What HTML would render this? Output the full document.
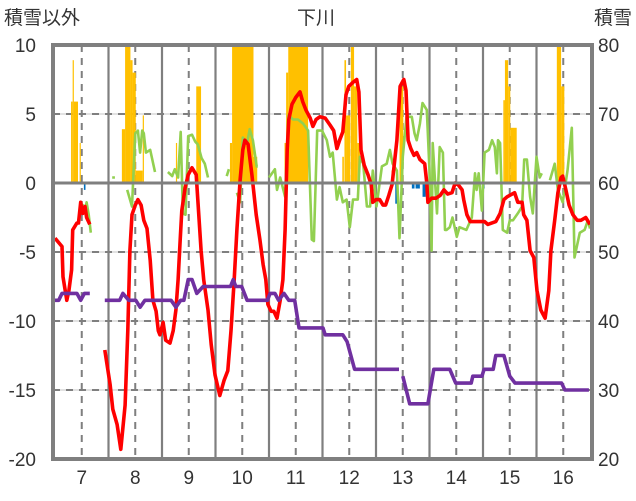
<!DOCTYPE html>
<html><head><meta charset="utf-8">
<style>
html,body{margin:0;padding:0;background:#fff;}
svg{display:block;font-family:"Liberation Sans","Noto Sans CJK JP",sans-serif;}
</style></head>
<body>
<svg id="chart" width="636" height="501" viewBox="0 0 636 501" xmlns="http://www.w3.org/2000/svg">
<text x="316" y="24" font-size="19" text-anchor="middle" fill="#333">下川</text>
<text x="4" y="24" font-size="19" fill="#333">積雪以外</text>
<text x="632" y="24" font-size="19" text-anchor="end" fill="#333">積雪</text>
<g id="grid"></g>
<g id="bars"></g>
<g id="lines"></g>
<g id="axes"></g>
</svg>
<script>
const xTicks = [7,8,9,10,11,12,13,14,15,16];
const leftTicks = [10,5,0,-5,-10,-15,-20];
const rightTicks = [80,70,60,50,40,30,20];

const redT = [6.50,6.63,6.65,6.72,6.76,6.81,6.83,6.91,6.94,6.98,7.02,7.06,7.09,7.15,null,
7.43,7.53,7.58,7.66,7.73,7.81,7.86,7.90,7.94,8.00,8.05,8.11,8.16,8.22,8.28,8.33,8.39,8.43,8.46,8.52,8.57,8.65,8.71,8.76,8.80,8.84,8.87,8.93,8.99,9.06,9.14,9.17,9.23,9.28,9.36,9.42,9.49,9.58,9.66,9.73,9.79,9.85,9.90,9.96,10.01,10.05,10.11,10.18,10.26,10.33,10.39,10.44,10.48,10.54,10.59,10.65,10.71,10.76,10.80,10.84,10.87,10.93,11.00,11.08,11.13,11.19,11.27,11.32,11.38,11.45,11.55,11.64,11.71,11.77,11.82,11.88,11.94,11.99,12.07,12.14,12.18,12.22,12.28,12.35,12.41,12.44,12.50,12.57,12.63,12.68,12.74,12.80,12.89,12.95,13.02,13.06,13.10,13.15,13.21,13.26,13.32,13.41,13.45,13.47,13.54,13.62,13.70,13.77,13.84,13.92,13.98,14.03,14.11,14.14,14.20,14.26,14.40,14.53,14.59,14.74,14.82,14.89,14.95,15.09,15.15,15.23,15.26,15.32,15.38,15.45,15.51,15.58,15.66,15.73,15.77,15.84,15.90,15.96,15.99,16.05,16.11,16.18,16.26,16.33,16.42,16.50];
const redV = [-4.0,-4.6,-6.8,-8.5,-7.8,-6.3,-3.4,-2.9,-2.9,-1.4,-2.2,-1.7,-2.5,-3.0,null,
-12.1,-14.6,-16.4,-17.5,-19.3,-16.1,-10.7,-4.9,-2.3,-1.6,-1.2,-1.6,-2.7,-3.3,-5.6,-8.5,-9.3,-10.7,-11.0,-10.1,-11.4,-11.6,-10.7,-9.2,-7.0,-4.1,-2.0,-0.4,0.6,1.1,0.6,-1.2,-4.9,-7.0,-9.2,-11.7,-13.9,-15.4,-14.3,-13.6,-10.7,-7.0,-3.4,0.2,2.4,3.1,2.8,0.6,-2.3,-4.1,-5.9,-7.0,-8.8,-9.3,-9.3,-9.8,-8.5,-7.0,-3.4,2.4,4.6,5.7,6.2,6.6,5.9,5.3,4.7,4.1,4.6,4.8,4.7,4.2,3.8,2.5,3.1,3.7,6.4,7.0,7.3,7.5,6.6,2.4,1.3,0.6,-0.1,-1.4,-1.2,-1.2,-1.6,-1.6,-0.9,-0.1,3.1,7.0,7.5,6.7,3.1,2.5,2.0,2.2,1.7,1.4,0.0,-1.4,-1.1,-1.1,-0.9,-0.5,-0.8,-0.7,0.0,-0.1,-0.5,-1.2,-2.3,-2.8,-2.8,-2.8,-3.0,-2.8,-2.2,-1.2,-1.0,-0.7,-1.4,-1.4,-2.3,-2.7,-4.9,-5.4,-7.8,-9.2,-9.8,-7.8,-4.9,-2.7,-0.7,0.4,0.5,-0.5,-1.6,-2.3,-2.7,-2.7,-2.5,-3.0];

const greenT = [6.97,7.02,7.06,7.09,7.13,7.17,null,7.57,7.62,null,
7.85,7.94,8.00,8.05,8.09,8.13,8.16,8.20,8.28,8.37,null,
8.61,8.69,8.74,8.80,8.85,8.89,8.94,8.99,9.06,9.12,9.17,9.24,9.30,9.36,null,
9.71,9.75,null,9.90,9.96,10.01,10.09,10.14,10.20,10.27,10.29,null,
10.50,10.61,10.65,10.71,10.80,10.86,10.95,11.04,11.14,11.23,11.30,11.34,11.40,11.49,11.58,11.64,11.69,11.77,11.82,11.88,11.95,12.01,12.07,12.16,12.20,12.26,12.33,12.39,12.44,12.51,12.61,12.70,12.76,12.81,12.89,12.94,13.00,13.07,13.17,13.22,13.26,13.32,13.37,13.45,13.50,13.54,13.56,13.64,13.69,13.75,13.79,13.82,13.88,13.93,14.01,14.06,14.19,14.29,14.35,14.38,14.42,14.48,14.53,14.61,14.67,14.72,14.76,14.78,14.82,14.87,14.95,15.00,15.06,15.15,15.23,15.27,15.32,15.38,15.43,15.50,15.56,15.60,null,
15.75,15.84,15.90,15.99,16.08,16.16,16.21,16.31,16.40,16.46,16.50];
const greenV = [-2.0,-1.6,-2.0,-1.4,-2.3,-3.6,null,0.4,0.4,null,
-0.5,-1.7,3.6,3.8,2.2,3.8,3.6,2.2,2.4,0.8,null,
0.8,0.5,1.0,0.4,3.7,-2.2,-2.3,3.4,3.5,3.0,2.8,1.8,1.4,0.4,null,
0.5,1.0,null,-0.7,-1.4,3.3,2.9,3.9,3.1,1.2,1.2,null,
0.4,1.0,-0.5,0.4,-1.0,4.9,4.6,4.6,4.3,3.8,-4.1,-4.2,3.8,3.8,3.1,1.9,2.2,-1.2,-0.3,-1.4,-1.2,-3.2,-1.2,-1.2,1.9,1.4,-1.7,-1.7,0.9,-1.7,1.2,1.4,2.4,1.4,0.9,-4.0,1.9,4.8,4.8,3.6,3.1,4.3,5.8,5.3,0.9,-4.9,2.9,-2.2,2.6,2.2,-3.4,-3.4,-3.2,-2.5,-3.9,-3.2,-3.4,-2.5,0.7,-0.5,0.7,-2.0,2.2,2.4,3.1,2.6,0.7,3.1,2.9,-3.4,-3.6,-2.7,-2.7,-2.2,-1.7,1.7,1.7,-1.0,-2.2,1.9,0.4,0.7,null,
0.2,1.4,-0.5,-1.4,0.9,4.0,-5.4,-3.6,-3.4,-2.7,-3.3];

const purpleT = [6.50,6.57,6.63,6.91,6.98,7.05,7.15,null,
7.43,7.71,7.77,7.88,8.01,8.09,8.18,8.67,8.76,8.85,8.91,8.99,9.06,9.15,9.27,9.78,9.83,9.88,9.99,10.09,10.47,10.52,10.61,10.68,10.78,10.87,10.98,11.06,11.51,11.55,11.88,11.96,12.10,12.93,null,
13.00,13.13,13.47,13.58,13.88,13.99,14.28,14.31,14.48,14.52,14.69,14.74,14.89,15.00,15.10,15.97,16.03,16.48];
const purpleV = [43,43,44,44,43,44,44,null,
43,43,44,43,43,42,43,43,42,43,43,46,46,44,45,45,46,45,45,43,43,44,44,43,44,43,43,39,39,38,38,37,33,33,null,
32,28,28,33,33,31,31,32,32,33,33,35,35,32,31,31,30,30];

const snowStart = [6.80,6.83,6.85,6.96,7.75,7.81,7.91,7.95,8.01,8.14,8.76,9.14,9.77,9.81,10.21,10.79,10.82,10.86,11.87,11.91,11.94,12.03,12.09,12.15,12.79,12.94,14.88,14.91,14.97,15.01,15.88,15.96];
const snowEnd   = [6.83,6.85,6.93,6.98,7.81,7.91,7.95,8.01,8.14,8.16,8.78,9.23,9.81,10.21,10.28,10.82,10.86,11.23,11.90,11.94,12.02,12.09,12.15,12.20,12.82,13.01,14.91,14.97,15.01,15.13,15.96,16.02];
const snowVal   = [5.9,8.9,5.9,2.9,3.9,12,8.9,8.0,0.9,4.9,2.9,7.0,2.9,12,1.9,2.9,8.0,12,1.9,8.9,4.9,12,7.0,2.9,0.9,7.0,6.0,8.9,7.0,4.0,12,7.0];

const negStart = [7.04,8.93,12.86,13.17,13.24,13.37,14.48];
const negEnd   = [7.07,8.95,12.91,13.22,13.32,13.43,14.53];
const negVal   = [-0.5,-0.3,-1.5,-0.4,-0.4,-1.0,-0.4];

const NS='http://www.w3.org/2000/svg';
const L=53,R=592,T=45,B=459;
function xs(t){return 55+(t-6.5)*53.5;}
function yl(v){return 183-v*13.8;}
function yr(r){return 459-(r-20)*6.9;}
function mk(tag,attrs,parent){const e=document.createElementNS(NS,tag);for(const k in attrs)e.setAttribute(k,attrs[k]);parent.appendChild(e);return e;}

const grid=document.getElementById('grid');
// horizontal grid
leftTicks.forEach(v=>{
  const y=yl(v);
  if(v===0||v===10||v===-20) return;
  const g=mk('line',{x1:L,x2:R,y1:y,y2:y,stroke:'#d9d9d9','stroke-width':1.5},grid);
  
  
  const d=mk('line',{x1:L,x2:R,y1:y,y2:y,stroke:'#7f7f7f','stroke-width':2,'stroke-dasharray':'7,6'},grid);
  
  
});
// vertical solid lines at half days, dashed at ticks
xTicks.forEach(t=>{
  const xd=xs(t);
  const d=mk('line',{x1:xd,x2:xd,y1:T,y2:B,stroke:'#7f7f7f','stroke-width':2,'stroke-dasharray':'7,6'},grid);
  
  
  if(t<16){const xsld=xs(t+0.5);
  const s=mk('line',{x1:xsld,x2:xsld,y1:T,y2:B,stroke:'#7f7f7f','stroke-width':2.2},grid);
  
  }
});

const bars=document.getElementById('bars');
mk('clipPath',{id:'clip'},bars).appendChild((()=>{const r=document.createElementNS(NS,'rect');r.setAttribute('x',L);r.setAttribute('y',T);r.setAttribute('width',R-L);r.setAttribute('height',B-T);return r;})());
snowVal.forEach((v,i)=>{
  const x0=xs(snowStart[i]),x1=xs(snowEnd[i]);
  const y=Math.max(yl(v),T);
  const r=mk('rect',{x:x0,y:y,width:Math.max(x1-x0,1.2),height:yl(0)-y,fill:'#FFC000'},bars);
  
  
});
negVal.forEach((v,i)=>{
  const x0=xs(negStart[i]),x1=xs(negEnd[i]);
  const r=mk('rect',{x:x0,y:yl(0),width:Math.max(x1-x0,1.2),height:yl(v)-yl(0),fill:'#0070C0'},bars);
  
  
});

const lines=document.getElementById('lines');
function pathFrom(ts,vs,yf){
  let d='',pen=false;
  for(let i=0;i<ts.length;i++){
    if(ts[i]===null||vs[i]===null){pen=false;continue;}
    d+=(pen?'L':'M')+xs(ts[i]).toFixed(1)+' '+yf(vs[i]).toFixed(1)+' ';pen=true;
  }
  return d;
}
const gp=mk('path',{d:pathFrom(greenT,greenV,yl),fill:'none',stroke:'#92D050','stroke-width':2.6,'stroke-linejoin':'round','clip-path':'url(#clip)'},lines);


const rp=mk('path',{d:pathFrom(redT,redV,yl),fill:'none',stroke:'#FF0000','stroke-width':3.6,'stroke-linejoin':'round','clip-path':'url(#clip)'},lines);


const pp=mk('path',{d:pathFrom(purpleT,purpleV,yr),fill:'none',stroke:'#7030A0','stroke-width':3.6,'stroke-linejoin':'round','clip-path':'url(#clip)'},lines);



const axes=document.getElementById('axes');
const zl=mk('line',{x1:L,x2:R,y1:yl(0),y2:yl(0),stroke:'#7f7f7f','stroke-width':3},axes);


const fr=mk('rect',{x:L,y:T,width:R-L,height:B-T,fill:'none',stroke:'#7f7f7f','stroke-width':4},axes);


leftTicks.forEach(v=>{
  const t=mk('text',{x:36,y:yl(v)+7,'font-size':19,'text-anchor':'end',fill:'#333'},axes);
  t.textContent=v;
  
  
});
rightTicks.forEach(r=>{
  const t=mk('text',{x:598,y:yr(r)+7,'font-size':19,fill:'#333'},axes);
  t.textContent=r;
  
  
});
xTicks.forEach(d=>{
  const t=mk('text',{x:xs(d),y:484,'font-size':19,'text-anchor':'middle',fill:'#333'},axes);
  t.textContent=d;
  
  
});
</script>
</body></html>
